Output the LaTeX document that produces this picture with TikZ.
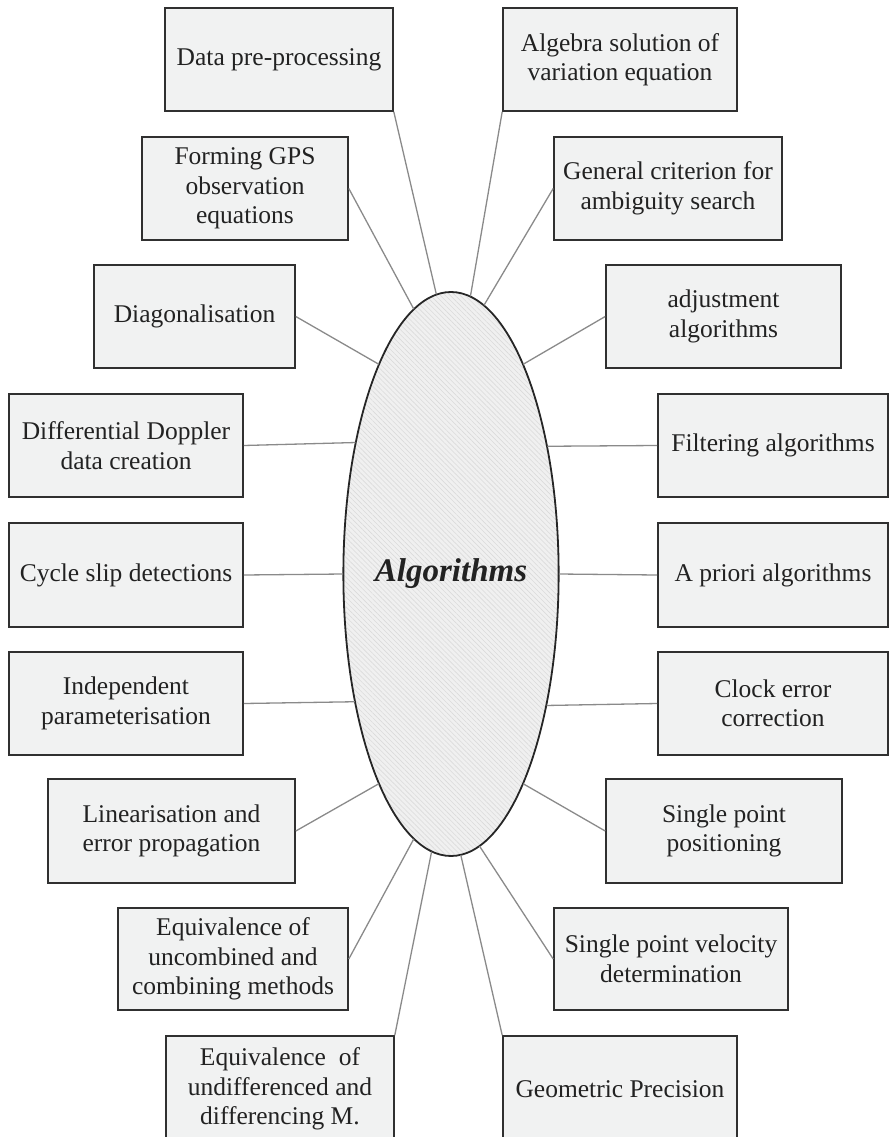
\documentclass[tikz,border=0pt]{standalone}
\usepackage{fontspec}
\setmainfont{Liberation Serif}
\usetikzlibrary{shapes.geometric,patterns.meta}
\definecolor{boxfill}{HTML}{F1F2F2}
\definecolor{boxline}{HTML}{303030}
\definecolor{conn}{HTML}{8A8A8A}
\definecolor{txt}{HTML}{222222}
\tikzset{
  box/.style={rectangle,draw=boxline,fill=boxfill,line width=1.6pt,inner sep=0pt,
    align=center,text=txt,font=\fontsize{25.5}{29.5}\selectfont},
  conline/.style={draw=conn,line width=1.3pt},
  hub/.style={ellipse,draw=black!85,line width=1.8pt,inner sep=0pt,
    minimum width=208pt,minimum height=564pt,
    preaction={fill=gray!12},
    pattern={Lines[angle=-45,distance=3.5pt,line width=0.6pt]},pattern color=gray!28,
    text=txt,font=\fontsize{33}{38}\selectfont\bfseries\itshape}
}
\newcommand\mybox[6]{\node[box,minimum width={(#4-#2)*1pt},minimum height={(#5-#3)*1pt}] (#1) at ({(#2+#4)/2},{(#3+#5)/2}) {#6};}
\begin{document}
\begin{tikzpicture}[x=1pt,y=-1pt]
\useasboundingbox (0,0) rectangle (889,1137);
\clip (0,0) rectangle (889,1137);
\node[hub] (alg) at (451,574) {Algorithms};
\mybox{data}{165}{8}{393}{111}{Data pre-processing}
\mybox{algebra}{503}{8}{737}{111}{Algebra solution of\\variation equation}
\mybox{forming}{142}{137}{348}{240}{Forming GPS\\observation\\equations}
\mybox{general}{554}{137}{782}{240}{General criterion for\\ambiguity search}
\mybox{diag}{94}{265}{295}{368}{Diagonalisation}
\mybox{adjust}{606}{265}{841}{368}{adjustment\\algorithms}
\mybox{doppler}{9}{394}{243}{497}{Differential Doppler\\data creation}
\mybox{filter}{658}{394}{888}{497}{Filtering algorithms}
\mybox{cycle}{9}{523}{243}{627}{Cycle slip detections}
\mybox{apriori}{658}{523}{888}{627}{A priori algorithms}
\mybox{indep}{9}{652}{243}{755}{Independent\\parameterisation}
\mybox{clock}{658}{652}{888}{755}{Clock error\\correction}
\mybox{linear}{48}{779}{295}{883}{Linearisation and\\error propagation}
\mybox{spp}{606}{779}{842}{883}{Single point\\positioning}
\mybox{uncomb}{118}{908}{348}{1010}{Equivalence of\\uncombined and\\combining methods}
\mybox{velo}{554}{908}{788}{1010}{Single point velocity\\determination}
\mybox{undiff}{166}{1036}{394}{1142}{Equivalence~ of\\undifferenced and\\differencing M.}
\mybox{geom}{503}{1036}{737}{1142}{Geometric Precision}
\draw[conline] (data.south east) -- (alg.93.2);
\draw[conline] (algebra.south west) -- (alg.86.9);
\draw[conline] (forming.east) -- (alg.98.4);
\draw[conline] (general.west) -- (alg.83.5);
\draw[conline] (diag.east) -- (alg.109.3);
\draw[conline] (adjust.west) -- (alg.71.4);
\draw[conline] (doppler.east) -- (alg.126.3);
\draw[conline] (filter.west) -- (alg.53.7);
\draw[conline] (cycle.east) -- (alg.west);
\draw[conline] (apriori.west) -- (alg.east);
\draw[conline] (indep.east) -- (alg.233.7);
\draw[conline] (clock.west) -- (alg.306.3);
\draw[conline] (linear.east) -- (alg.251.4);
\draw[conline] (spp.west) -- (alg.289.4);
\draw[conline] (uncomb.east) -- (alg.262.4);
\draw[conline] (velo.west) -- (alg.276.7);
\draw[conline] (undiff.north east) -- (alg.266.9);
\draw[conline] (geom.north west) -- (alg.272.4);
\end{tikzpicture}
\end{document}
